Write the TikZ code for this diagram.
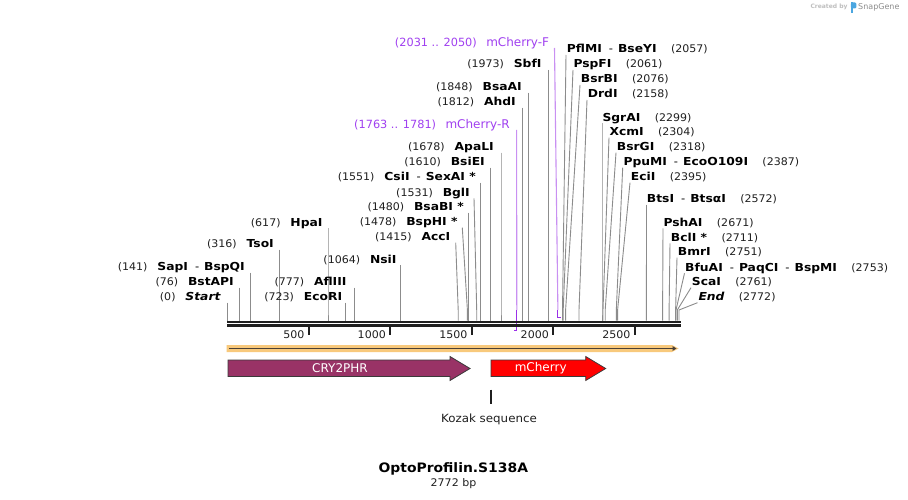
\documentclass[tikz,border=0pt]{standalone}
\usepackage{fontspec}
\usetikzlibrary{arrows.meta}
\setmainfont{DejaVu Sans}
\newfontfamily\rgfont[FakeStretch=1.05]{DejaVu Sans}
\newfontfamily\nmfont[FakeStretch=1.12]{DejaVu Sans}
\newfontfamily\ttlfont[FakeStretch=1.07]{DejaVu Sans}
\newfontfamily\prfont{DejaVu Sans}
\definecolor{sitegray}{HTML}{8C8C8C}
\definecolor{primerlt}{HTML}{C990F2}
\definecolor{primerdk}{HTML}{9B30E8}
\definecolor{primertxt}{HTML}{A040F0}
\definecolor{bbcol}{HTML}{1F1F1F}
\definecolor{featband}{HTML}{F8C97C}
\definecolor{featline}{HTML}{4A4036}
\definecolor{cryfill}{HTML}{993366}
\definecolor{mchfill}{HTML}{FF0000}
\definecolor{arrowline}{HTML}{3A3A3A}
\definecolor{logoblue}{HTML}{4BA6E0}
\newcommand\sepd{\hspace{7pt}{\rgfont\mdseries -}\hspace{5pt}}
% left label: id, y, text right x, line top x, site x, number, name
\newcommand\LL[7]{%
  \coordinate (#1t) at (#4,#2+6);
  \coordinate (#1s) at (#5,320.5);
  \draw[site] (#1t) -- ([yshift=10.5pt]#1s) -- (#1s);
  \node[nm, anchor=base east] (#1) at (#3,#2+4) {#7};
  \node[num, anchor=base east] (#1n) at ([xshift=-9.5pt]#1.base west) {(#6)};
}
% right label: id, y, text left x, line top x, site x, number, name
\newcommand\RL[7]{%
  \coordinate (#1t) at (#4,#2+6);
  \coordinate (#1s) at (#5,320.5);
  \draw[site] (#1t) -- ([yshift=10.5pt]#1s) -- (#1s);
  \node[nm, anchor=base west] (#1) at (#3,#2+4) {#7};
  \node[num, anchor=base west] (#1n) at ([xshift=14pt]#1.base east) {(#6)};
}
\begin{document}
\begin{tikzpicture}[x=1pt,y=-1pt,
  nm/.style={inner sep=0pt, font=\fontsize{11pt}{13pt}\selectfont\nmfont\bfseries, text=black},
  num/.style={inner sep=0pt, font=\fontsize{10.5pt}{12pt}\selectfont\rgfont, text=black!88},
  pr/.style={inner sep=0pt, font=\fontsize{12pt}{14pt}\selectfont\prfont, text=primertxt},
  prn/.style={inner sep=0pt, font=\fontsize{11.3pt}{13pt}\selectfont\prfont, text=primertxt},
  site/.style={draw=sitegray, line width=0.9pt},
  bb/.style={draw=bbcol, line width=2.4pt},
  tick/.style={draw=bbcol, line width=1.8pt},
  featlbl/.style={inner sep=0pt, font=\fontsize{12pt}{14pt}\selectfont\prfont, text=white},
  arrowshape/.style={draw=arrowline, line width=0.8pt}
]
\path[use as bounding box, fill=white] (0,0) rectangle (908,500);

% watermark
\node[inner sep=0pt, font=\fontsize{6pt}{7pt}\selectfont\bfseries, text=black!25] (cb) at (829,7) {Created by};
\fill[logoblue] (850.8,2.5) rectangle (852.8,13);
\fill[logoblue, rounded corners=1.2pt] (850.8,2.5) rectangle (856.3,8.5);
\node[inner sep=0pt, font=\fontsize{8pt}{9pt}\selectfont, text=black!45, anchor=west] (sg) at (858,7) {SnapGene};

% site lines and labels (left)
\LL{st}{296.7}{220.7}{227.7}{227.7}{0}{\itshape Start}
\LL{bst}{281.7}{234}{239.4}{239.4}{76}{BstAPI}
\LL{sap}{266.7}{245}{250.8}{250.8}{141}{SapI\sepd BspQI}
\LL{tso}{243.5}{274}{279.8}{279.8}{316}{TsoI}
\LL{hpa}{222}{322.7}{328}{328}{617}{HpaI}
\LL{eco}{296.7}{342.3}{345.6}{345.6}{723}{EcoRI}
\LL{afl}{281.7}{346.7}{354.2}{354.2}{777}{AflIII}
\LL{nsi}{259}{396.7}{400.7}{400.7}{1064}{NsiI}
\LL{acc}{236.7}{450.5}{455.7}{458.2}{1415}{AccI}
\LL{bsph}{221.7}{457.7}{462.3}{467.4}{1478}{BspHI *}
\LL{bsab}{206.7}{464}{468.4}{468.4}{1480}{BsaBI *}
\LL{bgl}{192.3}{470}{474}{476.7}{1531}{BglI}
\LL{csi}{176.7}{476}{480.3}{480.3}{1551}{CsiI\sepd SexAI *}
\LL{bsie}{161.7}{485}{490.2}{490.2}{1610}{BsiEI}
\LL{apa}{146.7}{494}{501}{501}{1678}{ApaLI}
\LL{ahd}{101.7}{516}{522.4}{522.4}{1812}{AhdI}
\LL{bsaa}{86.7}{522}{528.4}{528.4}{1848}{BsaAI}
\LL{sbf}{64}{541.7}{548.6}{548.6}{1973}{SbfI}

% right
\RL{pfl}{49}{566.7}{566}{562.5}{2057}{PflMI\sepd BseYI}
\RL{psp}{64}{573.3}{573}{563.2}{2061}{PspFI}
\RL{bsrb}{79}{580.7}{580}{565.6}{2076}{BsrBI}
\RL{drd}{94}{587.7}{587}{579}{2158}{DrdI}
\RL{sgr}{117.3}{602.3}{602}{602}{2299}{SgrAI}
\RL{xcm}{131.7}{609.3}{609}{603}{2304}{XcmI}
\RL{bsrg}{146.7}{616.7}{616}{605.2}{2318}{BsrGI}
\RL{ppu}{161.7}{623.3}{622.7}{616.3}{2387}{PpuMI\sepd EcoO109I}
\RL{eci}{176.7}{630.7}{630}{617.6}{2395}{EciI}
\RL{bts}{199}{646.7}{646.5}{646.4}{2572}{BtsI\sepd BtsαI}
\RL{psh}{222.3}{663.3}{663}{662.6}{2671}{PshAI}
\RL{bcl}{237.3}{670.7}{670}{669.1}{2711}{BclI *}
\RL{bmr}{251.7}{677.7}{677}{675.6}{2751}{BmrI}
\RL{bfu}{267.3}{685}{684.5}{676}{2753}{BfuAI\sepd PaqCI\sepd BspMI}
\RL{sca}{281.7}{691.7}{691}{677.3}{2761}{ScaI}
\RL{endl}{296.7}{698.3}{697.5}{679}{2772}{\itshape End}

% primers
\node[pr, anchor=base east] (mcr) at (510,128.6) {mCherry-R};
\node[prn, anchor=base east] (mcrn) at ([xshift=-9pt]mcr.base west) {(1763 .. 1781)};
\coordinate (mcrt) at (516.6,130);
\coordinate (mcrb) at (516.8,310);
\coordinate (mcre) at (516.8,330.5);
\coordinate (mcrh) at (514.3,330.5);
\draw[primerlt, line width=1.1pt] (mcrt) -- (mcrb);
\draw[primerdk, line width=1.1pt] (mcrb) -- (mcre) -- (mcrh);

\node[pr, anchor=base east] (mcf) at (549.3,46.6) {mCherry-F};
\node[prn, anchor=base east] (mcfn) at ([xshift=-9pt]mcf.base west) {(2031 .. 2050)};
\coordinate (mcft) at (554.5,48);
\coordinate (mcfb) at (557.9,310);
\coordinate (mcfe) at (557.9,317.3);
\coordinate (mcfh) at (561,317.3);
\draw[primerlt, line width=1.1pt] (mcft) -- (mcfb);
\draw[primerdk, line width=1.1pt] (mcfb) -- (mcfe) -- (mcfh);

% backbone
\coordinate (bbl1) at (227,322); \coordinate (bbr1) at (680.7,322);
\coordinate (bbl2) at (227,325.5); \coordinate (bbr2) at (680.7,325.5);
\draw[bb] (bbl1) -- (bbr1);
\draw[bb] (bbl2) -- (bbr2);

% ticks
\foreach \v/\x in {500/308.7,1000/390,1500/471.6,2000/553,2500/634.7}{
  \coordinate (tk\v) at (\x,327);
  \coordinate (tb\v) at (\x,335);
  \draw[tick] (tk\v) -- (tb\v);
  \node[num, anchor=east] (tl\v) at (\x-4,334.5) {\v};
}

% feature line
\fill[featband] (226.7,345) -- (672,345) -- (678.5,348.5) -- (672,352) -- (226.7,352) -- cycle;
\coordinate (fa) at (229,348.5);
\coordinate (fb) at (676.5,348.5);
\draw[featline, line width=1.3pt, -{Triangle[length=4pt,width=4.5pt]}] (fa) -- (fb);

% CRY2PHR
\filldraw[arrowshape, fill=cryfill] (228,360) -- (450,360) -- (450,356.5) -- (470,368.5) -- (450,380.5) -- (450,376.5) -- (228,376.5) -- cycle;
\node[featlbl] (cry) at (340,368.5) {CRY2PHR};
% mCherry
\filldraw[arrowshape, fill=mchfill] (491,360) -- (585.7,360) -- (585.7,356.5) -- (605.7,368.5) -- (585.7,380.5) -- (585.7,376.5) -- (491,376.5) -- cycle;
\node[featlbl] (mch) at (540.7,368.5) {mCherry};

% Kozak
\coordinate (kz1) at (490.8,389.5);
\coordinate (kz2) at (490.8,404);
\draw[draw=bbcol, line width=1.5pt] (kz1) -- (kz2);
\node[inner sep=0pt, font=\fontsize{11.3pt}{13pt}\selectfont\rgfont, text=black!88] (kozak) at (489,419) {Kozak sequence};

% title
\node[inner sep=0pt, font=\fontsize{13pt}{15pt}\selectfont\ttlfont\bfseries] (title) at (453.3,468.5) {OptoProfilin.S138A};
\node[num] (bp) at (453.5,484) {2772 bp};
\end{tikzpicture}
\end{document}
